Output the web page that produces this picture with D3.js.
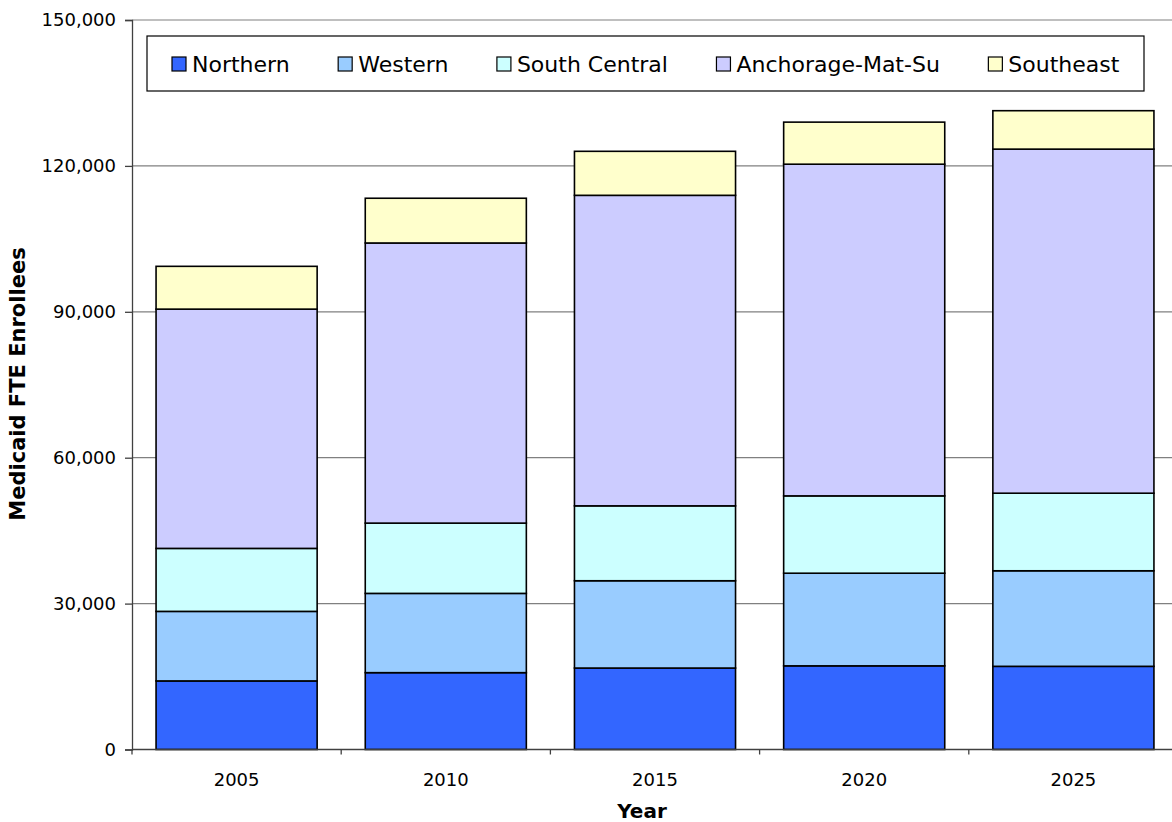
<!DOCTYPE html>
<html>
<head>
<meta charset="UTF-8">
<title>Medicaid FTE Enrollees</title>
<script src="https://cdnjs.cloudflare.com/ajax/libs/d3/7.8.5/d3.min.js"></script>
<style>
  body { margin: 0; background: #fff; }
  svg text { font-family: "DejaVu Sans", Verdana, sans-serif; fill: #000; }
  .tick-label { font-size: 18px; }
  .axis-title { font-size: 20px; font-weight: bold; }
  .y-title { font-size: 21px; }
  .legend-text { font-size: 22px; }
</style>
</head>
<body>
<script>
// data
var years = ["2005", "2010", "2015", "2020", "2025"];
var regions = ["Northern", "Western", "South Central", "Anchorage-Mat-Su", "Southeast"];
var northern     = [14100, 15800, 16750, 17200, 17100];
var western      = [14300, 16300, 17950, 19050, 19650];
var southCentral = [12950, 14450, 15400, 15900, 15950];
var anchorage    = [49200, 57600, 63850, 68200, 70750];
var southeast    = [8800, 9200, 9050, 8650, 7900];
var yTicks = [0, 30000, 60000, 90000, 120000, 150000];
var colors = ["#3366ff", "#99ccff", "#ccffff", "#ccccff", "#ffffcc"];

var W = 1172, H = 822;
var plotL = 132, plotR = 1178, plotT = 20, plotB = 749.5;

var table = years.map(function(y, i) {
  return { year: y, "Northern": northern[i], "Western": western[i],
    "South Central": southCentral[i], "Anchorage-Mat-Su": anchorage[i], "Southeast": southeast[i] };
});
var stacked = d3.stack().keys(regions)(table);

var svg = d3.select("body").append("svg")
  .attr("width", W)
  .attr("height", H);

var x = d3.scaleBand().domain(years).range([plotL, plotR])
  .paddingInner(0.23).paddingOuter(0.115);
var y = d3.scaleLinear().domain([0, 150000]).range([plotB, plotT]);

// gridlines
svg.append("g").selectAll("line")
  .data(yTicks.filter(function(d) { return d > 0; }))
  .enter().append("line")
  .attr("x1", plotL).attr("x2", W)
  .attr("y1", function(d) { return y(d); })
  .attr("y2", function(d) { return y(d); })
  .attr("stroke", "#808080")
  .attr("stroke-width", 1.2);

// bars
var layers = svg.append("g").selectAll("g")
  .data(stacked)
  .enter().append("g")
  .attr("fill", function(d, i) { return colors[i]; });

layers.selectAll("rect")
  .data(function(d) { return d; })
  .enter().append("rect")
  .attr("x", function(d) { return x(d.data.year); })
  .attr("width", x.bandwidth())
  .attr("y", function(d) { return y(d[1]); })
  .attr("height", function(d) { return y(d[0]) - y(d[1]); })
  .attr("stroke", "#000")
  .attr("stroke-width", 1.6);

// y axis
var yAxis = svg.append("g")
  .attr("transform", "translate(" + plotL + ",0)")
  .call(d3.axisLeft(y).tickValues(yTicks).tickSize(7).tickPadding(9)
    .tickFormat(d3.format(",")));
yAxis.select(".domain").attr("stroke", "#404040").attr("stroke-width", 1.3);
yAxis.selectAll(".tick line").attr("stroke", "#404040").attr("stroke-width", 1.3);
yAxis.selectAll("text").attr("class", "tick-label").attr("font-size", null).attr("font-family", null);
yAxis.attr("font-size", null).attr("font-family", null);

// x axis, ticks sit between the categories
var xAxis = svg.append("g")
  .attr("transform", "translate(0," + plotB + ")");
xAxis.append("line")
  .attr("x1", plotL).attr("x2", W)
  .attr("stroke", "#404040").attr("stroke-width", 1.3);
xAxis.selectAll(".sep")
  .data(years)
  .enter().append("line")
  .attr("class", "sep")
  .attr("x1", function(d) { return x(d) - x.step() * x.paddingInner() / 2; })
  .attr("x2", function(d) { return x(d) - x.step() * x.paddingInner() / 2; })
  .attr("y1", 0).attr("y2", 5)
  .attr("stroke", "#404040").attr("stroke-width", 1.3);
xAxis.selectAll(".tick-label")
  .data(years)
  .enter().append("text")
  .attr("class", "tick-label")
  .attr("x", function(d) { return x(d) + x.bandwidth() / 2; })
  .attr("y", 36)
  .attr("text-anchor", "middle")
  .text(function(d) { return d; });

// axis titles
svg.append("text")
  .attr("class", "axis-title y-title")
  .attr("transform", "translate(25,384) rotate(-90)")
  .attr("text-anchor", "middle")
  .text("Medicaid FTE Enrollees");

svg.append("text")
  .attr("class", "axis-title")
  .attr("x", 642)
  .attr("y", 818)
  .attr("text-anchor", "middle")
  .text("Year");

// legend
var legend = svg.append("g");
legend.append("rect")
  .attr("x", 147).attr("y", 36)
  .attr("width", 997).attr("height", 55)
  .attr("fill", "#fff")
  .attr("stroke", "#000")
  .attr("stroke-width", 1.2);

var lx = 172;
regions.forEach(function(r, i) {
  legend.append("rect")
    .attr("x", lx).attr("y", 57)
    .attr("width", 14).attr("height", 14)
    .attr("fill", colors[i])
    .attr("stroke", "#000")
    .attr("stroke-width", 1.2);
  var t = legend.append("text")
    .attr("class", "legend-text")
    .attr("x", lx + 20)
    .attr("y", 72)
    .text(r);
  lx += 20 + t.node().getComputedTextLength() + 48.5;
});
</script>
</body>
</html>
